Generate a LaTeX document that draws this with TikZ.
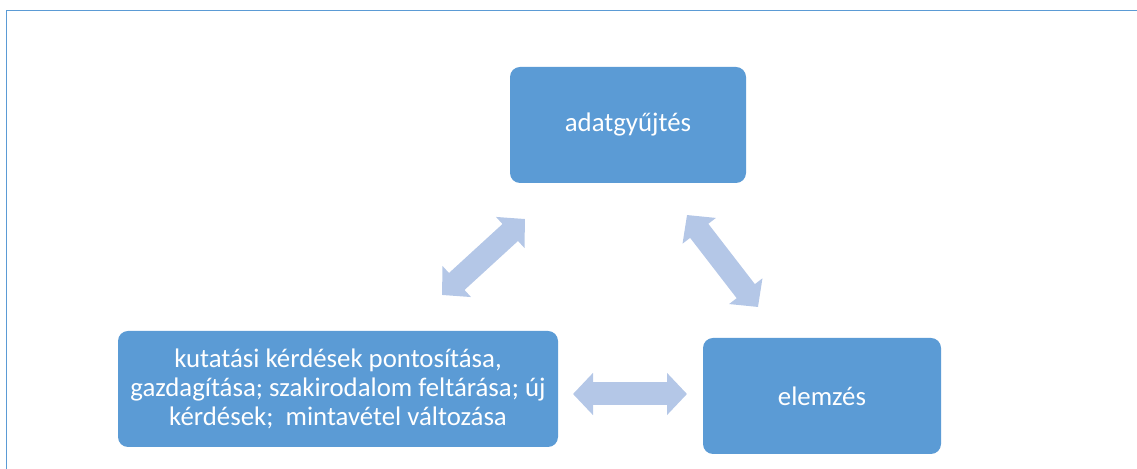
\documentclass[tikz,border=0pt]{standalone}
\usepackage{fontspec}
\setmainfont{Carlito}
\usepackage{xcolor}
\usetikzlibrary{arrows.meta, positioning, calc}
\definecolor{boxblue}{HTML}{5B9BD5}
\definecolor{arrowblue}{HTML}{B4C7E7}
\definecolor{frameblue}{HTML}{5B9BD5}

\begin{document}
\begin{tikzpicture}[
    x=0.5pt, y=-0.5pt,
    stage/.style={fill=boxblue, rounded corners=5pt, text=white, align=center,
        font=\fontsize{13.4}{14.6}\selectfont, inner sep=0pt},
    link/.style={arrowblue, line width=11.5pt,
        {Triangle[length=10pt, width=20.5pt]}-{Triangle[length=10pt, width=20.5pt]}},
]
    \useasboundingbox (0,0) rectangle (1137,469);
    % frame (only top and left edges visible)
    \draw[frameblue, line width=0.6pt] (6.5,469) -- (6.5,10.5) -- (1137,10.5);

    \node[stage, minimum width=118pt, minimum height=58pt] (collect) at (628,125) {adatgyűjtés};
    \node[stage, minimum width=220pt, minimum height=58pt] (questions) at (338,389)
        {kutatási kérdések pontosítása,\\ gazdagítása; szakirodalom feltárása; új\\ kérdések;\ \ mintavétel változása};
    \node[stage, minimum width=119pt, minimum height=58pt] (analysis) at (822,396) {elemzés};

    % block arrows between the stages
    \coordinate (q-c1) at (442,295);
    \coordinate (c-q1) at (525,219);
    \coordinate (c-a1) at (687,215);
    \coordinate (a-c1) at (758,307);
    \coordinate (q-a1) at (573,394);
    \coordinate (a-q1) at (687,394);

    \draw[link] (q-c1) -- (c-q1);
    \draw[link] (c-a1) -- (a-c1);
    \draw[link] (q-a1) -- (a-q1);
\end{tikzpicture}
\end{document}
